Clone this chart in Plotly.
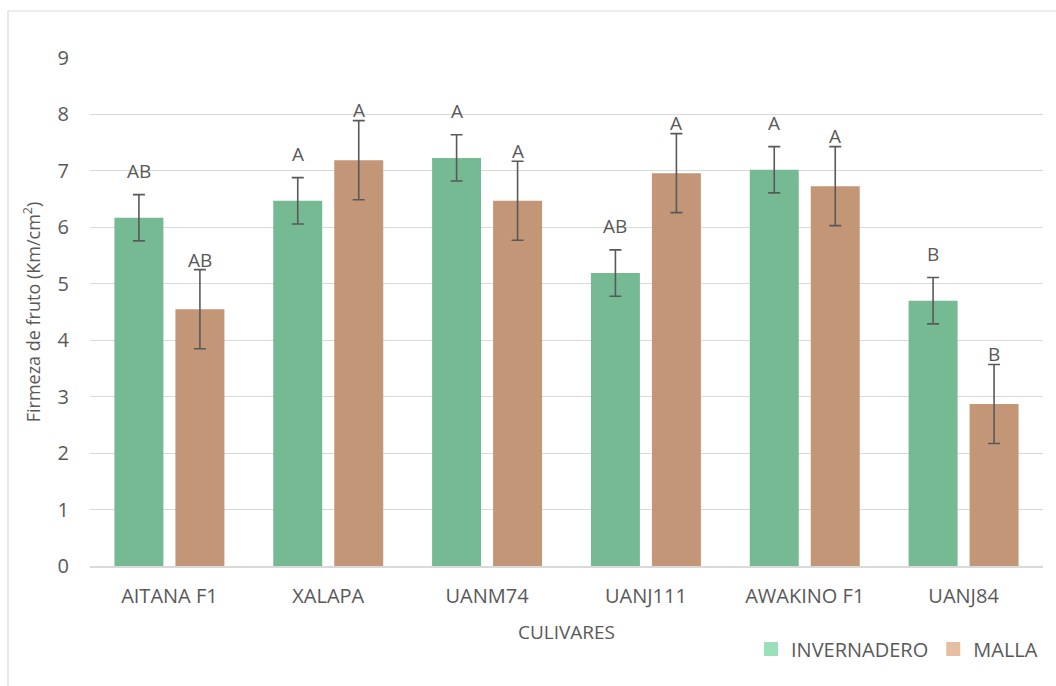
import plotly.graph_objects as go

# Cultivars and fruit firmness (Km/cm²) per growing condition
cultivares = ["AITANA F1", "XALAPA", "UANM74", "UANJ111", "AWAKINO F1", "UANJ84"]
invernadero = [6.17, 6.47, 7.23, 5.19, 7.02, 4.70]
malla = [4.55, 7.19, 6.47, 6.96, 6.73, 2.87]
err_invernadero = [0.41, 0.41, 0.41, 0.41, 0.41, 0.41]
err_malla = [0.70, 0.70, 0.70, 0.70, 0.70, 0.70]
letras_invernadero = ["AB", "A", "A", "AB", "A", "B"]
letras_malla = ["AB", "A", "A", "A", "A", "B"]

W, H = 1056, 686
ML, MR, MT, MB = 90, 13, 58, 120
BARGAP, GROUPGAP = 0.232, 0.197

FONT = "Open Sans"
GRAY = "#595959"
C_INV = "rgb(117,186,147)"
C_MAL = "rgb(194,150,119)"
C_INV_LEG = "rgb(155,224,186)"
C_MAL_LEG = "rgb(230,190,160)"
FS = 20

fig = go.Figure()

err_style = dict(type="data", color=GRAY, thickness=1.6, width=6)

fig.add_trace(go.Bar(
    x=cultivares, y=invernadero, name="INVERNADERO", marker_color=C_INV,
    marker_line_width=0, showlegend=False,
    error_y=dict(array=err_invernadero, **err_style),
))
fig.add_trace(go.Bar(
    x=cultivares, y=malla, name="MALLA", marker_color=C_MAL,
    marker_line_width=0, showlegend=False,
    error_y=dict(array=err_malla, **err_style),
))

# Legend entries (lighter square swatches; scatter so bar slots are unaffected)
for nm, col in [("INVERNADERO", C_INV_LEG), ("MALLA", C_MAL_LEG)]:
    fig.add_trace(go.Scatter(x=[None], y=[None], name=nm, mode="markers",
                             marker=dict(symbol="square", size=14, color=col),
                             showlegend=True))

# Significance letters above each error bar
plot_w = W - ML - MR
cat_px = plot_w / len(cultivares)
slot_px = cat_px * (1 - BARGAP) / 2
shift = slot_px / 2
for i, c in enumerate(cultivares):
    fig.add_annotation(x=c, y=invernadero[i] + err_invernadero[i] + 0.42,
                       text=letras_invernadero[i], showarrow=False,
                       xshift=-shift, yanchor="middle",
                       font=dict(family=FONT, size=FS - 1, color=GRAY))
    fig.add_annotation(x=c, y=malla[i] + err_malla[i] + 0.18,
                       text=letras_malla[i], showarrow=False,
                       xshift=shift, yanchor="middle",
                       font=dict(family=FONT, size=FS - 1, color=GRAY))

# Chart area border
plot_h = H - MT - MB
def px_to_paper_x(px):
    return (px - ML) / plot_w
def px_to_paper_y(py):
    return (H - MB - py) / plot_h
fig.add_shape(type="rect", xref="paper", yref="paper",
              x0=px_to_paper_x(8), x1=px_to_paper_x(W + 5),
              y0=px_to_paper_y(H + 5), y1=px_to_paper_y(11),
              line=dict(color="#D9D9D9", width=1.2), fillcolor="rgba(0,0,0,0)",
              layer="below")

fig.update_layout(
    width=W, height=H,
    margin=dict(l=ML, r=MR, t=MT, b=MB),
    paper_bgcolor="white", plot_bgcolor="white",
    barmode="group", bargap=BARGAP, bargroupgap=GROUPGAP,
    font=dict(family=FONT, color=GRAY, size=FS),
    legend=dict(orientation="h", x=1.0, xanchor="right", y=-0.125, yanchor="top",
                font=dict(family=FONT, size=FS, color=GRAY),
                itemwidth=30, traceorder="normal"),
    xaxis=dict(
        showgrid=False, showline=True, linecolor="#D9D9D9", linewidth=1.5,
        ticks="", tickfont=dict(family=FONT, size=FS, color=GRAY),
        ticklabelstandoff=11,
        title=dict(text="CULIVARES", font=dict(family=FONT, size=FS - 1, color=GRAY),
                   standoff=18),
    ),
    yaxis=dict(
        range=[0, 9], dtick=1, showgrid=True, gridcolor="#D9D9D9", gridwidth=1.2,
        zeroline=False, showline=False, ticks="",
        tickfont=dict(family=FONT, size=FS, color=GRAY), ticklabelstandoff=20,
        title=dict(text="Firmeza de fruto (Km/cm<sup>2</sup>)",
                   font=dict(family=FONT, size=FS - 2, color=GRAY), standoff=12),
    ),
)

fig.write_html("out.html")
